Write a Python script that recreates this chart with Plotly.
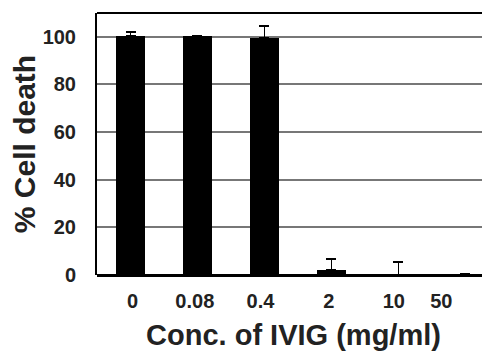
import plotly.graph_objects as go

categories = ["0", "0.08", "0.4", "2", "10", "50"]
cell_death = [100.5, 100.2, 99.6, 2.2, 0.0, 0.4]
err_plus = [1.4, 0.3, 4.8, 4.6, 5.3, 0.0]
y_ticks = [0, 20, 40, 60, 80, 100]

x_pos = list(range(len(categories)))
label_pos = [0.03, 0.96, 1.94, 2.96, 3.93, 4.64]

fig = go.Figure()
fig.add_trace(go.Bar(
    x=x_pos, y=cell_death, width=0.42,
    marker=dict(color="black", line=dict(width=0)),
    error_y=dict(type="data", symmetric=False, array=err_plus,
                 arrayminus=[0] * len(err_plus),
                 color="black", thickness=1.8, width=5),
    showlegend=False,
))

fig.add_shape(type="line", xref="paper", yref="paper", x0=0, x1=1, y0=1, y1=1,
              line=dict(color="black", width=2))

font_family = "Liberation Sans, Arial, sans-serif"
fig.update_layout(
    width=482, height=343,
    margin=dict(l=89, r=0, t=5, b=76),
    plot_bgcolor="white", paper_bgcolor="white",
    bargap=0,
    font=dict(family=font_family, color="#222", size=18),
    xaxis=dict(
        range=[-0.5, 5.366], tickmode="array", tickvals=label_pos, ticktext=categories,
        showgrid=False, zeroline=False, showline=False, ticks="",
        automargin=False,
        tickfont=dict(size=20, family=font_family, weight="bold", color="#222"),
        ticklabelstandoff=12,
        title=dict(text="Conc. of IVIG (mg/ml)", standoff=14,
                   font=dict(size=29, family=font_family, weight="bold", color="#222")),
    ),
    yaxis=dict(
        range=[0, 110], tickmode="array", tickvals=y_ticks,
        showgrid=True, gridcolor="#777", gridwidth=1.5,
        zeroline=True, zerolinecolor="black", zerolinewidth=2.5,
        showline=True, linecolor="black", linewidth=2, ticks="",
        automargin=False,
        tickfont=dict(size=20, family=font_family, weight="bold", color="#222"),
        ticklabelstandoff=15,
        title=dict(text="% Cell death", standoff=0,
                   font=dict(size=30, family=font_family, weight="bold", color="#222")),
    ),
)

fig.write_html("out.html")
